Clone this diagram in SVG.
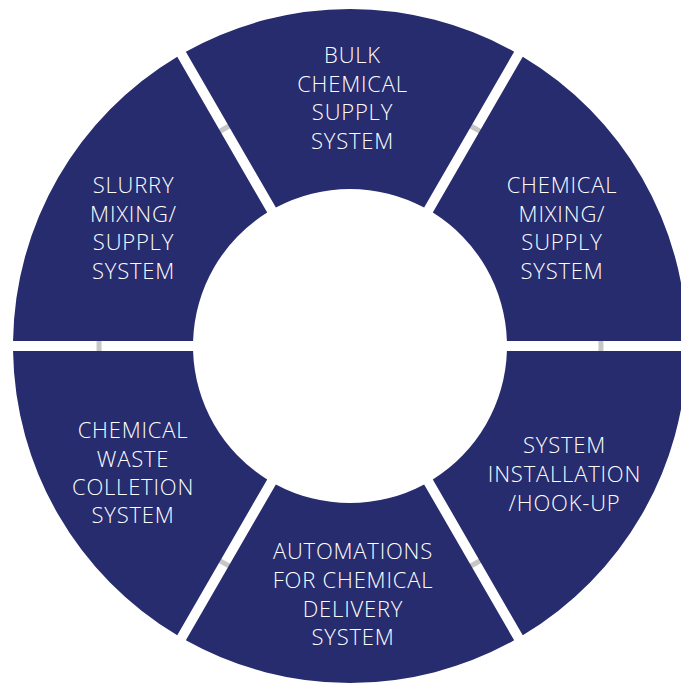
<svg xmlns="http://www.w3.org/2000/svg" width="681" height="684" viewBox="0 0 681 684">
<style>
.seg{fill:#262C6E}
.lbl{fill:#FFFFFF;font-family:"Open Sans","Noto Sans","Liberation Sans",sans-serif;font-size:22px;font-weight:300;letter-spacing:0.8px;text-anchor:middle}
</style>
<rect width="681" height="684" fill="#FFFFFF"/>
<g id="connectors">
<circle cx="350" cy="346" r="251" fill="none" stroke="#C6C6C6" stroke-width="5"/>
</g>
<g id="bulk">
<path class="seg" d="M185.85,51.7 A337,337 0 0 1 514.15,51.7 L424.13,207.6 A157,157 0 0 0 275.87,207.6 Z"/>
<text class="lbl"><tspan x="352.5" y="63">BULK</tspan><tspan x="352.5" y="91.5">CHEMICAL</tspan><tspan x="352.5" y="120">SUPPLY</tspan><tspan x="352.5" y="148.5">SYSTEM</tspan></text>
</g>
<g id="chemical-mixing">
<path class="seg" d="M522.75,56.65 A337,337 0 0 1 686.96,341 L506.92,341 A157,157 0 0 0 432.79,212.6 Z"/>
<text class="lbl"><tspan x="562" y="193.3">CHEMICAL</tspan><tspan x="562" y="221.7">MIXING/</tspan><tspan x="562" y="250">SUPPLY</tspan><tspan x="562" y="278.5">SYSTEM</tspan></text>
</g>
<g id="installation">
<path class="seg" d="M686.96,351 A337,337 0 0 1 522.75,635.35 L432.79,479.4 A157,157 0 0 0 506.92,351 Z"/>
<text class="lbl"><tspan x="564.5" y="453.3">SYSTEM</tspan><tspan x="564.5" y="481.7">INSTALLATION</tspan><tspan x="564.5" y="510.5">/HOOK-UP</tspan></text>
</g>
<g id="automations">
<path class="seg" d="M514.15,640.3 A337,337 0 0 1 185.85,640.3 L275.87,484.4 A157,157 0 0 0 424.13,484.4 Z"/>
<text class="lbl"><tspan x="353" y="559.3">AUTOMATIONS</tspan><tspan x="353" y="587.5">FOR CHEMICAL</tspan><tspan x="353" y="616.5">DELIVERY</tspan><tspan x="353" y="645">SYSTEM</tspan></text>
</g>
<g id="waste">
<path class="seg" d="M177.25,635.35 A337,337 0 0 1 13.04,351 L193.08,351 A157,157 0 0 0 267.21,479.4 Z"/>
<text class="lbl"><tspan x="133" y="438.3">CHEMICAL</tspan><tspan x="133" y="466.7">WASTE</tspan><tspan x="133" y="495">COLLETION</tspan><tspan x="133" y="523.3">SYSTEM</tspan></text>
</g>
<g id="slurry">
<path class="seg" d="M13.04,341 A337,337 0 0 1 177.25,56.65 L267.21,212.6 A157,157 0 0 0 193.08,341 Z"/>
<text class="lbl"><tspan x="133.5" y="193.3">SLURRY</tspan><tspan x="133.5" y="221.7">MIXING/</tspan><tspan x="133.5" y="250">SUPPLY</tspan><tspan x="133.5" y="278.5">SYSTEM</tspan></text>
</g>
</svg>
